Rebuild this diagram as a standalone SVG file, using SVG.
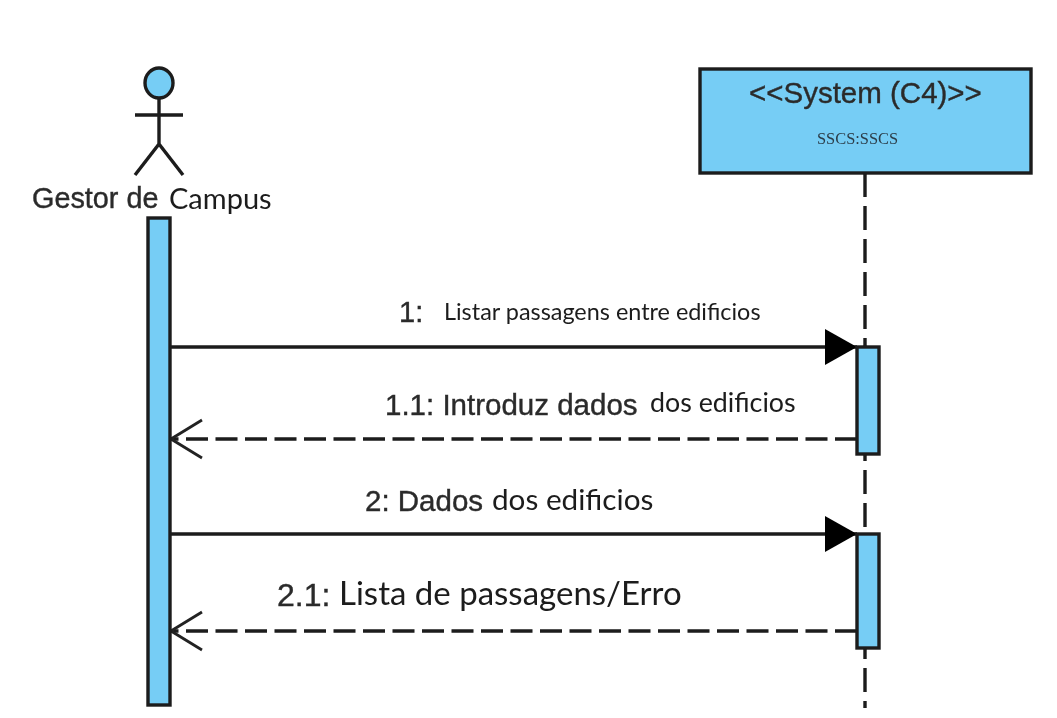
<svg xmlns="http://www.w3.org/2000/svg" width="1057" height="718" viewBox="0 0 1057 718">
<style>
.a{font-family:"Liberation Sans",Arial,sans-serif;fill:#2c2c2c;stroke:#2c2c2c;stroke-width:.4}
.c{font-family:"Lato","Open Sans",sans-serif;fill:#1c1c1c}
.box{fill:#76cdf5;stroke:#1c1c1c;stroke-width:3.4}
.ln{fill:none;stroke:#1c1c1c;stroke-width:3.4}
.ret{stroke-dasharray:22 7.5}
</style>
<defs>
<filter id="soft" filterUnits="userSpaceOnUse" x="0" y="0" width="1057" height="718"><feGaussianBlur stdDeviation="0.55"/></filter>
<marker id="solid" markerUnits="userSpaceOnUse" markerWidth="34" markerHeight="38" refX="33" refY="19" orient="auto"><path d="M1 1L33 19L1 37Z" fill="#000"/></marker>
<marker id="open" markerUnits="userSpaceOnUse" markerWidth="36" markerHeight="42" refX="34" refY="21" orient="auto"><path d="M3 2L34 21L3 40" fill="none" stroke="#222" stroke-width="2.8"/></marker>
</defs>
<rect width="1057" height="718" fill="#fff"/>
<g filter="url(#soft)">
<g id="connectors">
<path class="ln" d="M865 173V708" stroke-dasharray="24 9"/>
<path class="ln" d="M170 347H857" marker-end="url(#solid)"/>
<path class="ln ret" d="M857 439H171" marker-end="url(#open)"/>
<path class="ln" d="M170 534H857" marker-end="url(#solid)"/>
<path class="ln ret" d="M857 631H171" marker-end="url(#open)"/>
</g>
<g id="actor">
<ellipse class="box" cx="159" cy="83" rx="14" ry="15"/>
<path class="ln" d="M159 98V144M135 115H183M135 175L159 144L183 175"/>
<text class="a" x="32" y="208" font-size="28.8">Gestor de</text>
<text class="c" x="169" y="209" font-size="29">Campus</text>
</g>
<g id="actor-activation"><rect class="box" x="148" y="218" width="22" height="487"/></g>
<g id="system">
<rect class="box" x="700" y="69" width="331" height="104"/>
<text class="a" x="749" y="103" font-size="29.5">&lt;&lt;System (C4)&gt;&gt;</text>
<text x="817" y="144" font-size="16.4" font-family="Liberation Serif,serif" fill="#2c3e4a">SSCS:SSCS</text>
</g>
<g id="system-activation-1"><rect class="box" x="857" y="347" width="22" height="107"/></g>
<g id="system-activation-2"><rect class="box" x="857" y="534" width="22" height="114"/></g>
<g id="labels">
<text class="a" x="399" y="322" font-size="29">1:</text>
<text class="c" x="444" y="320" font-size="23.4">Listar passagens entre edificios</text>
<text class="a" x="385" y="415" font-size="29.5">1.1: Introduz dados</text>
<text class="c" x="650" y="412" font-size="26.8">dos edificios</text>
<text class="a" x="365" y="511" font-size="29.5">2: Dados</text>
<text class="c" x="492" y="510" font-size="29.7">dos edificios</text>
<text class="a" x="277" y="606" font-size="32">2.1:</text>
<text class="c" x="339" y="605" font-size="33">Lista de passagens/Erro</text>
</g>
</g>
</svg>
